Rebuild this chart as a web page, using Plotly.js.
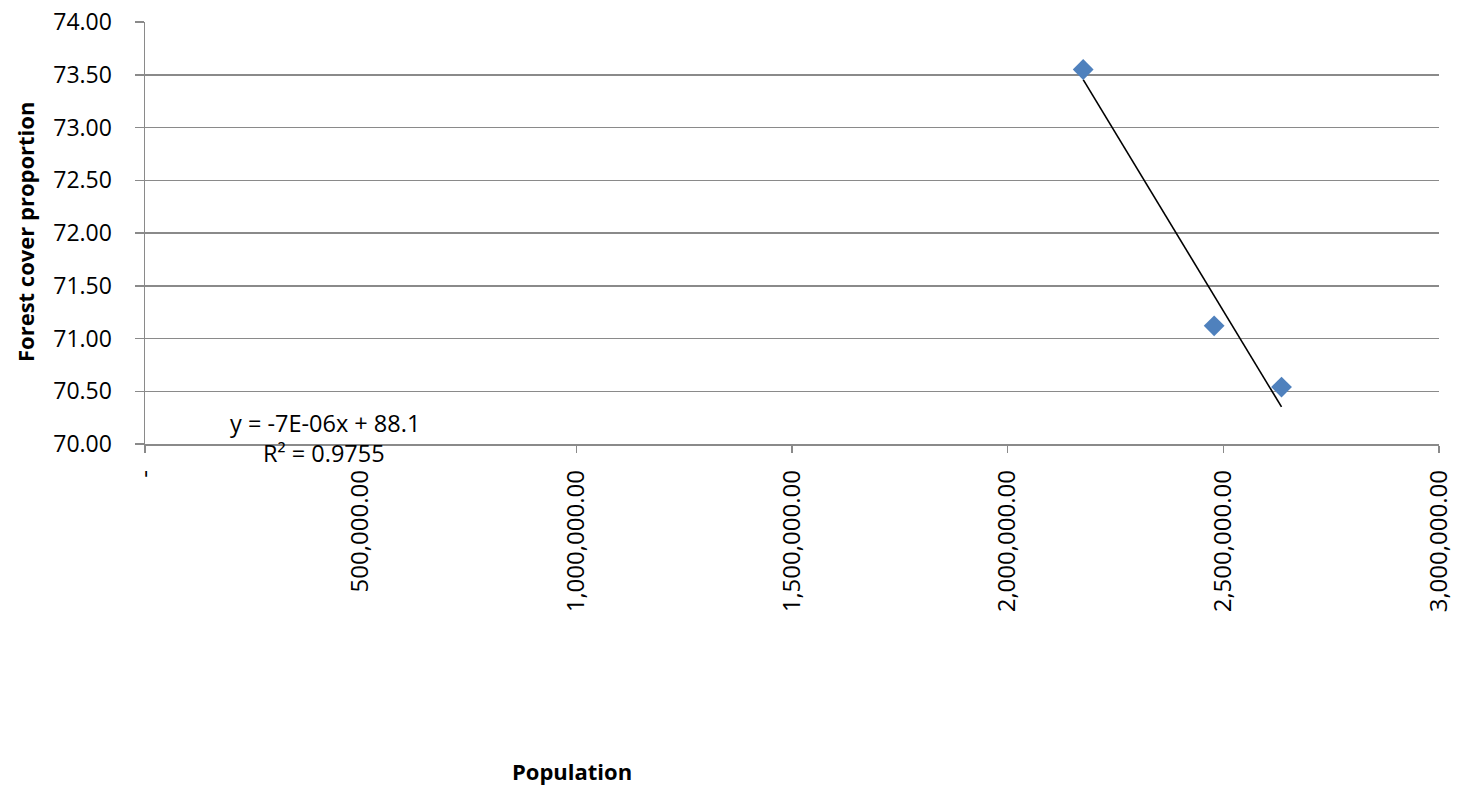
<!DOCTYPE html>
<html>
<head>
<meta charset="utf-8">
<script src="https://cdn.plot.ly/plotly-3.0.1.min.js"></script>
<style>
  html, body { margin: 0; padding: 0; background: #fff; }
  #chart { width: 1460px; height: 785px; }
</style>
</head>
<body>
<div id="chart"></div>
<script>
// Population vs. forest cover proportion
const population = [2175100, 2478700, 2634900];
const forestCover = [73.55, 71.12, 70.54];

const xTickVals = [0, 500000, 1000000, 1500000, 2000000, 2500000, 3000000];
const xTickText = ['-', '500,000.00', '1,000,000.00', '1,500,000.00', '2,000,000.00', '2,500,000.00', '3,000,000.00'];
const yTickVals = [70, 70.5, 71, 71.5, 72, 72.5, 73, 73.5, 74];

const equationText = 'y = -7E-06x + 88.1';
const r2Text = 'R² = 0.9755';

// Least-squares linear trendline over the data range
function linearFit(xs, ys) {
  const n = xs.length;
  const mx = xs.reduce((a, b) => a + b, 0) / n;
  const my = ys.reduce((a, b) => a + b, 0) / n;
  let sxy = 0, sxx = 0;
  for (let i = 0; i < n; i++) {
    sxy += (xs[i] - mx) * (ys[i] - my);
    sxx += (xs[i] - mx) * (xs[i] - mx);
  }
  const slope = sxy / sxx;
  return { slope: slope, intercept: my - slope * mx };
}
const fit = linearFit(population, forestCover);
const xMin = Math.min(...population), xMax = Math.max(...population);
const trendX = [xMin, xMax];
const trendY = trendX.map(x => fit.intercept + fit.slope * x);

const FONT = 'Open Sans, Liberation Sans, sans-serif';
const GRID = '#8a8a8a';

const traces = [
  {
    x: trendX, y: trendY, type: 'scatter', mode: 'lines',
    line: { color: '#000000', width: 1.6 },
    hoverinfo: 'skip', showlegend: false
  },
  {
    x: population, y: forestCover, type: 'scatter', mode: 'markers',
    marker: { symbol: 'diamond', size: 16, color: '#4F81BD', line: { width: 0 } },
    showlegend: false, cliponaxis: false
  }
];

const layout = {
  width: 1460, height: 785,
  margin: { l: 145, r: 21, t: 22, b: 341 },
  paper_bgcolor: '#ffffff', plot_bgcolor: '#ffffff',
  font: { family: FONT, size: 24, color: '#000000' },
  showlegend: false,
  xaxis: {
    range: [0, 3000000],
    tickmode: 'array', tickvals: xTickVals, ticktext: xTickText,
    tickangle: -90,
    ticks: 'outside', ticklen: 7, tickcolor: GRID, tickwidth: 1.5,
    ticklabelstandoff: 8,
    showgrid: false, zeroline: false,
    showline: true, linecolor: GRID, linewidth: 1.5,
    tickfont: { family: FONT, size: 24, color: '#000000' }
  },
  yaxis: {
    range: [70, 74],
    tickmode: 'array', tickvals: yTickVals,
    tickformat: '.2f',
    ticks: 'outside', ticklen: 9, tickcolor: GRID, tickwidth: 1.5,
    ticklabelstandoff: 18,
    showgrid: true, gridcolor: GRID, gridwidth: 1.5,
    zeroline: false,
    showline: true, linecolor: GRID, linewidth: 1.5,
    tickfont: { family: FONT, size: 23, color: '#000000' }
  },
  annotations: [
    {
      text: '<b>Forest cover proportion</b>', textangle: -90,
      xref: 'paper', yref: 'paper', x: -0.0927, y: 0.5024,
      xanchor: 'center', yanchor: 'middle', showarrow: false,
      font: { family: FONT, size: 22, color: '#000000' }
    },
    {
      text: '<b>Population</b>',
      xref: 'paper', yref: 'paper', x: 0.33, y: -0.775,
      xanchor: 'center', yanchor: 'middle', showarrow: false,
      font: { family: FONT, size: 22, color: '#000000' }
    },
    {
      text: equationText,
      xref: 'paper', yref: 'paper', x: 0.139, y: 0.0498,
      xanchor: 'center', yanchor: 'middle', showarrow: false,
      font: { family: FONT, size: 23.5, color: '#000000' }
    },
    {
      text: r2Text,
      xref: 'paper', yref: 'paper', x: 0.1383, y: -0.0213,
      xanchor: 'center', yanchor: 'middle', showarrow: false,
      font: { family: FONT, size: 23.5, color: '#000000' }
    }
  ]
};

Plotly.newPlot('chart', traces, layout, { displayModeBar: false, staticPlot: true });
</script>
</body>
</html>
